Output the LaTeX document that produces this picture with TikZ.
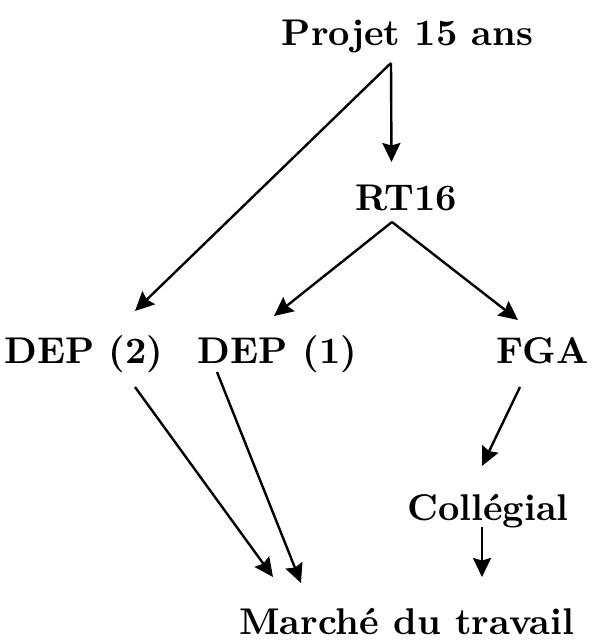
\documentclass[tikz,border=0pt]{standalone}
\usepackage{fontspec}
\newfontfamily\lblfont{lmroman10-bold.otf}
\usetikzlibrary{arrows.meta}
\tikzset{
  lbl/.style={anchor=base, inner sep=0pt, font=\lblfont\fontsize{37.2}{44}\selectfont},
  arr/.style={line width=2.4pt, -{Stealth[length=19pt,width=18pt,inset=2.5pt]}},
}
\begin{document}
\begin{tikzpicture}[x=1pt,y=-1pt]
  \useasboundingbox (0,0) rectangle (592,641);
  % labels
  \node[lbl] (projet) at (407.5,45) {Projet 15 ans};
  \node[lbl] (rt) at (406.5,210) {RT16};
  \node[lbl] (dep2) at (84,363) {DEP (2)};
  \node[lbl] (dep1) at (277.5,363) {DEP (1)};
  \node[lbl] (fga) at (542.5,363) {FGA};
  \node[lbl] (coll) at (488,520) {Collégial};
  \node[lbl] (marche) at (406.5,634.5) {Marché du travail};
  % arrows
  \draw[arr] ([shift={(-16.5,18)}]projet.base) -- ([shift={(-15,-48)}]rt.base);
  \draw[arr] ([shift={(-16.5,18)}]projet.base) -- ([shift={(51,-52)}]dep2.base);
  \draw[arr] ([shift={(-14.5,12)}]rt.base) -- ([shift={(-3.5,-47)}]dep1.base);
  \draw[arr] ([shift={(-14.5,12)}]rt.base) -- ([shift={(-24.5,-43)}]fga.base);
  \draw[arr] ([shift={(51,24)}]dep2.base) -- ([shift={(-133.5,-57.5)}]marche.base);
  \draw[arr] ([shift={(-60.5,9)}]dep1.base) -- ([shift={(-105.5,-51.5)}]marche.base);
  \draw[arr] ([shift={(-22.5,24)}]fga.base) -- ([shift={(-6,-54)}]coll.base);
  \draw[arr] ([shift={(-6,7)}]coll.base) -- ([shift={(75.5,-57.5)}]marche.base);
\end{tikzpicture}
\end{document}
